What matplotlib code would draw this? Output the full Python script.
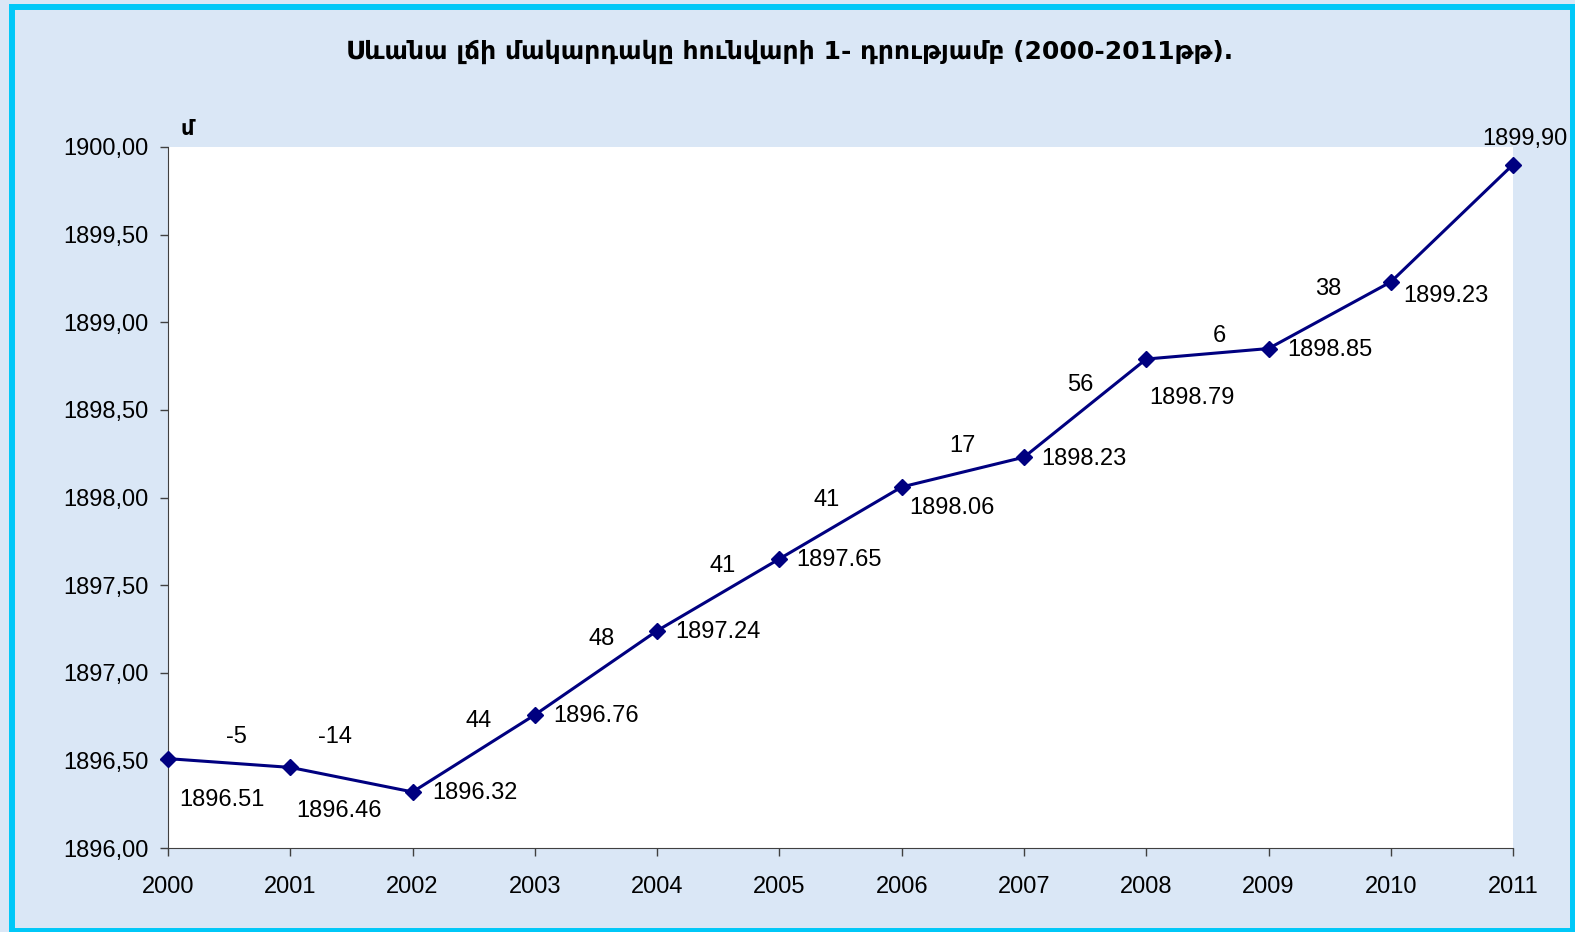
import matplotlib.pyplot as plt
import matplotlib.patches as patches

years = [2000, 2001, 2002, 2003, 2004, 2005, 2006, 2007, 2008, 2009, 2010, 2011]
levels = [1896.51, 1896.46, 1896.32, 1896.76, 1897.24, 1897.65,
          1898.06, 1898.23, 1898.79, 1898.85, 1899.23, 1899.90]
level_labels = ["1896.51", "1896.46", "1896.32", "1896.76", "1897.24", "1897.65",
                "1898.06", "1898.23", "1898.79", "1898.85", "1899.23", "1899,90"]
changes = ["-5", "-14", "44", "48", "41", "41", "17", "56", "6", "38"]
y_ticks = [1896.0, 1896.5, 1897.0, 1897.5, 1898.0, 1898.5, 1899.0, 1899.5, 1900.0]

title = "Սևանա լճի մակարդակը հունվարի 1- դրությամբ (2000-2011թթ)."
unit = "մ"

# label placement, in pixels from the point / segment middle
value_offsets = [(54, -41), (49, -44), (62, -1), (61, -1), (61, -1), (60, -1),
                 (50, -21), (60, -2), (46, -39), (61, -1), (55, -14), (12, 26)]
change_offsets = [(7, 26), (-16, 43), (5, 32), (6, 34), (4, 29), (-14, 23),
                  (0, 26), (-5, 23), (12, 18), (-1, 26)]

fonts = ['Liberation Sans', 'DejaVu Sans']
plt.rcParams['font.family'] = fonts

fig = plt.figure(figsize=(15.75, 9.32), dpi=100)
fig.patch.set_facecolor('#dae7f6')

# cyan frame around the chart
fig.add_artist(patches.Rectangle((0.0076, 0.001), 0.9911, 0.9915, transform=fig.transFigure,
                                 fill=False, edgecolor='#00c8f8', linewidth=4.3))

ax = fig.add_axes([0.1067, 0.0901, 0.8540, 0.7522])
ax.set_facecolor('white')
ax.plot(years, levels, color='#000080', linewidth=2.2, marker='D', markersize=8, zorder=3,
        clip_on=False)

ax.set_xlim(2000, 2011)
ax.set_ylim(1896.0, 1900.0)
ax.set_xticks(years)
ax.set_yticks(y_ticks)
ax.set_yticklabels([f"{v:.2f}".replace('.', ',') for v in y_ticks])
ax.tick_params(axis='both', labelsize=17, length=6, width=1, color='#404040', direction='out')
ax.tick_params(axis='x', pad=14)
ax.tick_params(axis='y', pad=8)
for side in ['top', 'right']:
    ax.spines[side].set_visible(False)
for side in ['left', 'bottom']:
    ax.spines[side].set_color('#404040')

for x, y, lab, off in zip(years, levels, level_labels, value_offsets):
    ax.annotate(lab, (x, y), xytext=off, textcoords='offset pixels',
                ha='center', va='center', fontsize=17, annotation_clip=False)

for i, (lab, off) in enumerate(zip(changes, change_offsets)):
    mx = (years[i] + years[i + 1]) / 2
    my = (levels[i] + levels[i + 1]) / 2
    ax.annotate(lab, (mx, my), xytext=off, textcoords='offset pixels',
                ha='center', va='center', fontsize=17)

fig.text(0.501, 0.944, title, ha='center', va='center', fontsize=18, fontweight='bold',
         family=['DejaVu Sans Condensed', 'DejaVu Sans'])
fig.text(0.119, 0.862, unit, ha='center', va='center', fontsize=15, fontweight='bold',
         family=['DejaVu Sans'])

fig.savefig('out.png', dpi=100, facecolor=fig.get_facecolor())
